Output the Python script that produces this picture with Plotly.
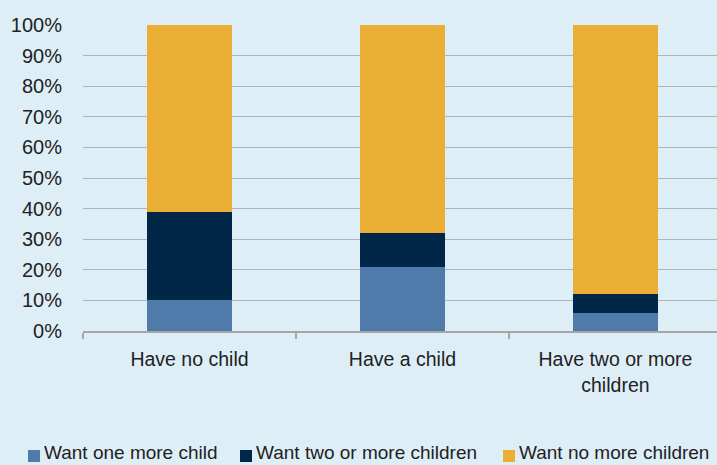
import plotly.graph_objects as go

categories = ["Have no child", "Have a child", "Have two or more<br>children"]
want_one_more = [0.10, 0.21, 0.06]
want_two_or_more = [0.29, 0.11, 0.06]
want_no_more = [0.61, 0.68, 0.88]
series_names = ["Want one more child", "Want two or more children", "Want no more children"]
colors = ["#4f7bab", "#002747", "#ebae35"]
y_ticks = [i / 10 for i in range(11)]
y_tick_labels = [f"{i*10}%" for i in range(11)]

W, H = 717, 465
ML, MR, MT, MB = 83, 0, 25, 134
PW, PH = W - ML - MR, H - MT - MB
BG = "#deeef7"


def px_x(px):
    return (px - ML) / PW


def px_y(py):
    return (H - MB - py) / PH


fig = go.Figure()
for name, vals, col in zip(series_names, [want_one_more, want_two_or_more, want_no_more], colors):
    fig.add_trace(go.Bar(x=categories, y=vals, name=name, marker=dict(color=col, line=dict(width=0)),
                         width=0.4, showlegend=False))

# custom legend (marker squares + labels)
legend_marker_px = [28, 240, 503]
for name, col, mx in zip(series_names, colors, legend_marker_px):
    fig.add_shape(type="rect", xref="paper", yref="paper",
                  x0=px_x(mx), x1=px_x(mx + 12), y0=px_y(462), y1=px_y(450),
                  fillcolor=col, line=dict(width=0), layer="above")
    fig.add_annotation(xref="paper", yref="paper", x=px_x(mx + 15), y=px_y(464),
                       xanchor="left", yanchor="bottom", text=name, showarrow=False,
                       font=dict(size=19, color="#222222"), borderpad=0)

fig.update_layout(
    barmode="stack",
    width=W, height=H,
    paper_bgcolor=BG, plot_bgcolor=BG,
    margin=dict(l=ML, r=MR, t=MT, b=MB, pad=0),
    font=dict(family="Liberation Sans, Arial, sans-serif", size=19, color="#222222"),
    showlegend=False,
)
fig.update_xaxes(
    range=[-0.5, 2.477], showline=True, linecolor="#a6a6a6", linewidth=1.5,
    ticks="outside", tickson="boundaries", ticklen=6, tickcolor="#a6a6a6", tickwidth=1.5,
    showgrid=False, ticklabelstandoff=10, tickfont=dict(size=19.5),
)
fig.update_yaxes(
    range=[0, 1.0], tickvals=y_ticks, ticktext=y_tick_labels,
    showgrid=True, gridcolor="#b3b3b3", gridwidth=1, zeroline=False, showline=False,
    ticks="", ticklabelstandoff=20, tickfont=dict(size=20),
)
fig.write_html("out.html", config={"displayModeBar": False},
               post_script="document.body.style.margin='0px';document.body.style.overflow='hidden';")
